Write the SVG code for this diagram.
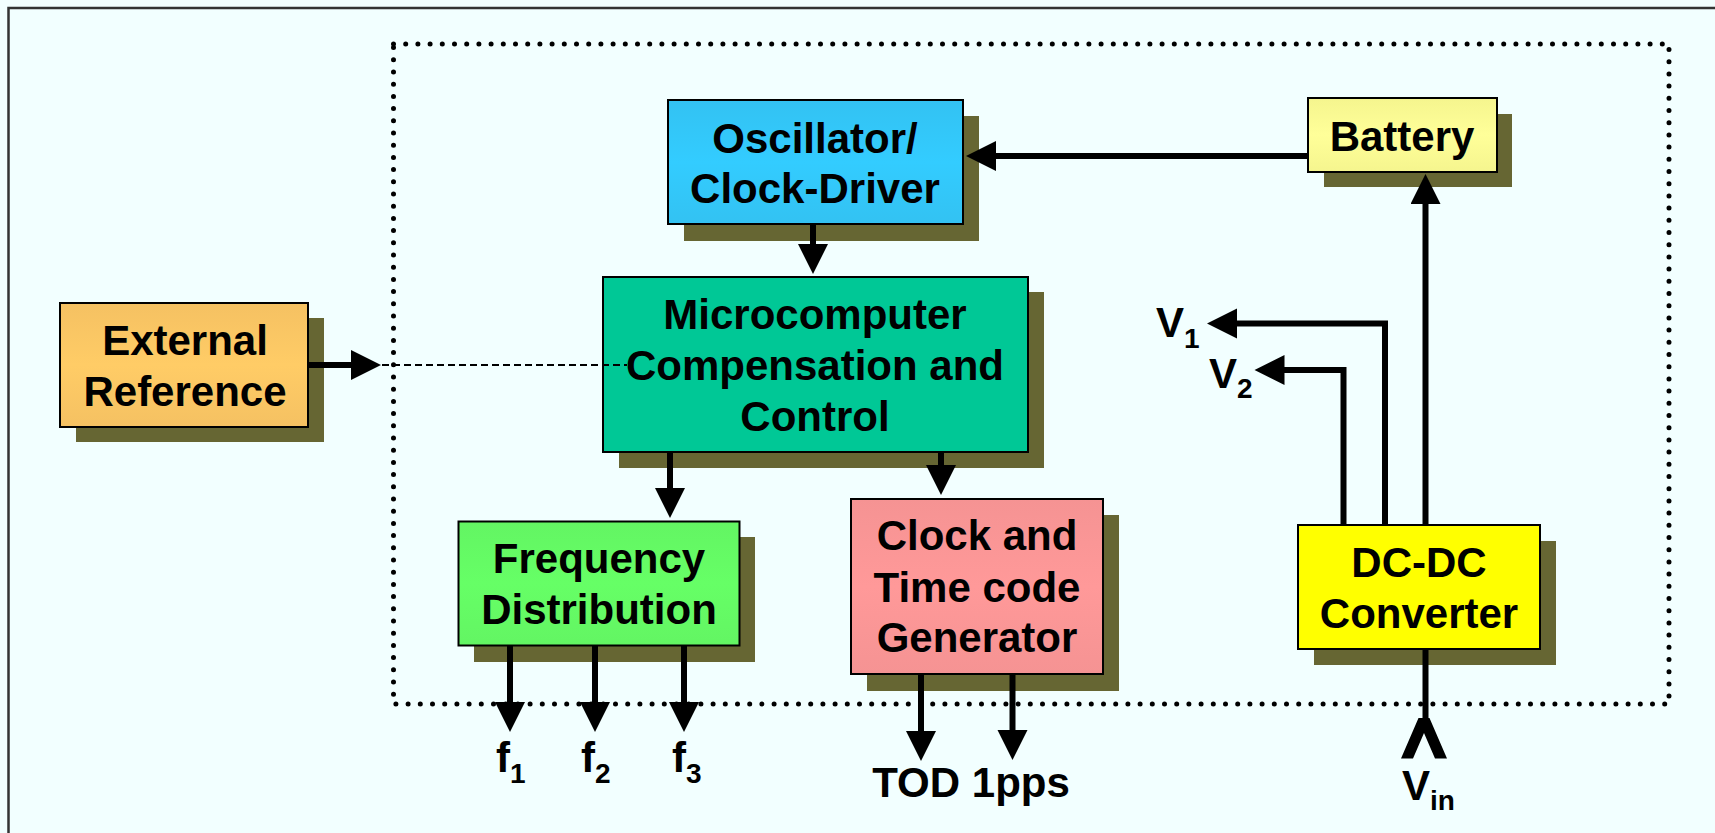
<svg xmlns="http://www.w3.org/2000/svg" width="1715" height="833" viewBox="0 0 1715 833">
<style>
.shadow{fill:#666633}
.box{stroke:#000;stroke-width:2}
.t{font-family:"Liberation Sans",Arial,sans-serif;font-weight:bold;font-size:42px;fill:#000;text-anchor:middle}
.lbl{font-family:"Liberation Sans",Arial,sans-serif;font-weight:bold;font-size:42px;fill:#000}
.sub{font-size:28px}
.wire{fill:none;stroke:#000;stroke-width:6}
.arr{marker-end:url(#ah)}
</style>
<defs>
<marker id="ah" markerUnits="userSpaceOnUse" markerWidth="32" markerHeight="32" refX="1" refY="15" orient="auto">
<path d="M0,0 L30,15 L0,30 z" fill="#000"/>
</marker>
<linearGradient id="gOsc" x1="0" y1="0" x2="0" y2="1"><stop offset="0" stop-color="#33C2F2"/><stop offset="0.5" stop-color="#33CCFF"/><stop offset="1" stop-color="#33C2F2"/></linearGradient>
<linearGradient id="gExt" x1="0" y1="0" x2="0" y2="1"><stop offset="0" stop-color="#F5C162"/><stop offset="0.5" stop-color="#FFCC66"/><stop offset="1" stop-color="#F5C162"/></linearGradient>
<linearGradient id="gBat" x1="0" y1="0" x2="0" y2="1"><stop offset="0" stop-color="#F5F58E"/><stop offset="0.5" stop-color="#FFFF99"/><stop offset="1" stop-color="#F5F58E"/></linearGradient>
<linearGradient id="gFrq" x1="0" y1="0" x2="0" y2="1"><stop offset="0" stop-color="#63F563"/><stop offset="0.5" stop-color="#66FF66"/><stop offset="1" stop-color="#63F563"/></linearGradient>
<linearGradient id="gClk" x1="0" y1="0" x2="0" y2="1"><stop offset="0" stop-color="#F59393"/><stop offset="0.5" stop-color="#FF9999"/><stop offset="1" stop-color="#F59393"/></linearGradient>
</defs>

<rect x="0" y="0" width="1715" height="833" fill="#F2FFFF"/>
<path d="M8.5,833 V8 H1715" fill="none" stroke="#333" stroke-width="2.5"/>
<rect x="393.5" y="44" width="1275.5" height="660" fill="none" stroke="#000" stroke-width="5" stroke-linecap="round" stroke-dasharray="0 12.2"/>

<g id="oscillator">
<rect class="shadow" x="684" y="116" width="295" height="125"/>
<rect class="box" x="668" y="100" width="295" height="124" fill="url(#gOsc)"/>
<text class="t" x="815" y="153">Oscillator/</text>
<text class="t" x="815" y="203">Clock-Driver</text>
</g>

<g id="battery">
<rect class="shadow" x="1324" y="114" width="188" height="73"/>
<rect class="box" x="1308" y="98" width="189" height="74" fill="url(#gBat)"/>
<text class="t" x="1402" y="151">Battery</text>
</g>

<g id="microcomputer">
<rect class="shadow" x="619" y="292" width="425" height="176"/>
<rect class="box" x="603" y="277" width="425" height="175" fill="#00C896"/>
<text class="t" x="815" y="329">Microcomputer</text>
<text class="t" x="815" y="380">Compensation and</text>
<text class="t" x="815" y="431">Control</text>
</g>

<g id="external-reference">
<rect class="shadow" x="76" y="318" width="248" height="124"/>
<rect class="box" x="60" y="303" width="248" height="124" fill="url(#gExt)"/>
<text class="t" x="185" y="355">External</text>
<text class="t" x="185" y="406">Reference</text>
</g>

<g id="frequency-distribution">
<rect class="shadow" x="474" y="537" width="281" height="125"/>
<rect class="box" x="458.5" y="521.5" width="281" height="124" fill="url(#gFrq)"/>
<text class="t" x="599" y="573">Frequency</text>
<text class="t" x="599" y="624">Distribution</text>
</g>

<g id="clock-generator">
<rect class="shadow" x="867" y="515" width="252" height="176"/>
<rect class="box" x="851" y="499" width="252" height="175" fill="url(#gClk)"/>
<text class="t" x="977" y="550">Clock and</text>
<text class="t" x="977" y="601.5">Time code</text>
<text class="t" x="977" y="652">Generator</text>
</g>

<g id="dc-dc-converter">
<rect class="shadow" x="1314" y="541" width="242" height="124"/>
<rect class="box" x="1298" y="525" width="242" height="124" fill="#FFFF00"/>
<text class="t" x="1419" y="577">DC-DC</text>
<text class="t" x="1419" y="628">Converter</text>
</g>

<g id="connectors">
<line class="wire arr" x1="1308" y1="156" x2="995" y2="156"/>
<line class="wire arr" x1="813" y1="224" x2="813" y2="245"/>
<line class="wire arr" x1="308" y1="365" x2="352" y2="365"/>
<line x1="382" y1="365" x2="627" y2="365" stroke="#000" stroke-width="1.8" stroke-dasharray="7 4"/>
<line class="wire arr" x1="670" y1="452" x2="670" y2="489"/>
<line class="wire arr" x1="941" y1="452" x2="941" y2="466"/>
<line class="wire arr" x1="510" y1="645" x2="510" y2="703"/>
<line class="wire arr" x1="595" y1="645" x2="595" y2="703"/>
<line class="wire arr" x1="684" y1="645" x2="684" y2="703"/>
<line class="wire arr" x1="921" y1="674" x2="921" y2="732"/>
<line class="wire arr" x1="1012.5" y1="674" x2="1012.5" y2="731"/>
<line class="wire arr" x1="1425.5" y1="525" x2="1425.5" y2="203"/>
<path class="wire arr" d="M1385,525 V323.5 H1236"/>
<path class="wire arr" d="M1343.5,525 V370 H1283.5"/>
<line class="wire" x1="1425.5" y1="649" x2="1425.5" y2="720"/>
<polygon points="1401,758.5 1418.5,718 1429.5,718 1447,758.5 1435,758.5 1424,733 1413,758.5" fill="#000"/>
</g>

<g id="labels">
<text class="lbl" x="496" y="772">f<tspan class="sub" dy="11">1</tspan></text>
<text class="lbl" x="581" y="772">f<tspan class="sub" dy="11">2</tspan></text>
<text class="lbl" x="672" y="772">f<tspan class="sub" dy="11">3</tspan></text>
<text class="t" x="971" y="797">TOD 1pps</text>
<text class="lbl" x="1156" y="337">V<tspan class="sub" dy="11">1</tspan></text>
<text class="lbl" x="1209" y="388">V<tspan class="sub" dy="10">2</tspan></text>
<text class="lbl" x="1402" y="800">V<tspan class="sub" dy="10">in</tspan></text>
</g>
</svg>
